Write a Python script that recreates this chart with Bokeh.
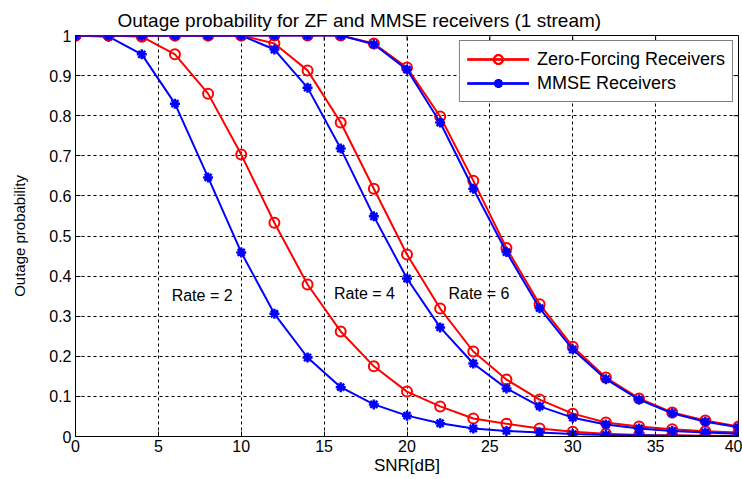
from bokeh.plotting import figure
from bokeh.models import Range1d, FixedTicker, Label
from bokeh.embed import file_html
from bokeh.resources import INLINE

snr = [0, 2, 4, 6, 8, 10, 12, 14, 16, 18, 20, 22, 24, 26, 28, 30, 32, 34, 36, 38, 40]

zf_rate2 = [1.0, 1.0, 0.997, 0.953, 0.855, 0.703, 0.533, 0.379, 0.262, 0.175, 0.112,
            0.075, 0.045, 0.032, 0.02, 0.012, 0.007, 0.004, 0.003, 0.002, 0.001]
mmse_rate2 = [1.0, 0.997, 0.953, 0.83, 0.646, 0.459, 0.306, 0.197, 0.123, 0.08, 0.052,
              0.033, 0.02, 0.014, 0.01, 0.006, 0.004, 0.003, 0.002, 0.001, 0.001]
zf_rate4 = [1.0, 1.0, 1.0, 1.0, 1.0, 1.0, 0.98, 0.913, 0.783, 0.618, 0.454,
            0.319, 0.212, 0.142, 0.092, 0.057, 0.035, 0.025, 0.018, 0.013, 0.01]
mmse_rate4 = [1.0, 1.0, 1.0, 1.0, 1.0, 1.0, 0.965, 0.87, 0.718, 0.549, 0.394,
              0.272, 0.182, 0.12, 0.075, 0.047, 0.03, 0.02, 0.014, 0.01, 0.007]
zf_rate6 = [1.0, 1.0, 1.0, 1.0, 1.0, 1.0, 1.0, 1.0, 1.0, 0.98, 0.92,
            0.798, 0.638, 0.47, 0.33, 0.224, 0.147, 0.095, 0.06, 0.04, 0.025]
mmse_rate6 = [1.0, 1.0, 1.0, 1.0, 1.0, 1.0, 1.0, 1.0, 1.0, 0.978, 0.915,
              0.783, 0.618, 0.46, 0.32, 0.217, 0.143, 0.092, 0.058, 0.037, 0.023]

x_ticks = [0, 5, 10, 15, 20, 25, 30, 35, 40]
y_ticks = [0, 0.1, 0.2, 0.3, 0.4, 0.5, 0.6, 0.7, 0.8, 0.9, 1.0]
y_tick_labels = ["0", "0.1", "0.2", "0.3", "0.4", "0.5", "0.6", "0.7", "0.8", "0.9", "1"]

rate_labels = ["Rate = 2", "Rate = 4", "Rate = 6"]
rate_label_x = [5.8, 15.6, 22.5]
rate_label_y = [0.352, 0.357, 0.357]

FONT = "Liberation Sans"
X0, X1, Y0, Y1 = 0, 40, 0, 1
FRAME_W, FRAME_H = 663, 401
TICK_PX = 5

p = figure(width=742, height=479, output_backend="svg", toolbar_location=None,
           x_range=Range1d(X0, X1), y_range=Range1d(Y0, Y1),
           min_border_left=75, min_border_right=4, min_border_top=35, min_border_bottom=43)

p.title.text = "Outage probability for ZF and MMSE receivers (1 stream)"
p.title.align = "left"
p.title.offset = 42
p.title.text_font = FONT
p.title.text_font_size = "19px"
p.title.text_font_style = "normal"
p.title.text_color = "#000000"

p.outline_line_color = "black"
p.outline_line_width = 1
p.background_fill_color = "white"

for ax in (p.xaxis[0], p.yaxis[0]):
    ax.major_tick_in = TICK_PX
    ax.major_tick_out = 0
    ax.minor_tick_line_color = None
    ax.axis_line_color = "black"
    ax.major_tick_line_color = "black"
    ax.major_label_text_font = FONT
    ax.major_label_text_font_size = "16px"
    ax.major_label_text_color = "black"
    ax.axis_label_text_font = FONT
    ax.axis_label_text_font_size = "15px"
    ax.axis_label_text_font_style = "normal"
    ax.axis_label_text_color = "black"

p.xaxis[0].ticker = FixedTicker(ticks=x_ticks)
p.yaxis[0].ticker = FixedTicker(ticks=y_ticks)
p.yaxis[0].major_label_overrides = {t: l for t, l in zip(y_ticks, y_tick_labels)}
p.xaxis[0].axis_label = "SNR[dB]"
p.yaxis[0].axis_label = "Outage probability"
p.xaxis[0].axis_label_text_font_size = "17px"
p.xaxis[0].major_label_standoff = 3
p.yaxis[0].major_label_standoff = 4
p.xaxis[0].axis_label_standoff = 1
p.yaxis[0].axis_label_standoff = 18

# inward tick marks on the top and right edges of the box
dx = TICK_PX * (X1 - X0) / FRAME_W
dy = TICK_PX * (Y1 - Y0) / FRAME_H
p.segment(x0=x_ticks, x1=x_ticks, y0=[Y1] * len(x_ticks), y1=[Y1 - dy] * len(x_ticks),
          line_color="black", line_width=1)
p.segment(x0=[X1] * len(y_ticks), x1=[X1 - dx] * len(y_ticks), y0=y_ticks, y1=y_ticks,
          line_color="black", line_width=1)

p.xgrid.ticker = FixedTicker(ticks=x_ticks)
p.ygrid.ticker = FixedTicker(ticks=y_ticks)
for g in (p.xgrid[0], p.ygrid[0]):
    g.grid_line_color = "black"
    g.grid_line_dash = "3 3"
    g.grid_line_width = 1
    g.grid_line_alpha = 1.0

ZF = "Zero-Forcing Receivers"
MM = "MMSE Receivers"
for zf, mm in ((zf_rate2, mmse_rate2), (zf_rate4, mmse_rate4), (zf_rate6, mmse_rate6)):
    p.line(snr, zf, line_color="red", line_width=2, legend_label=ZF)
    p.scatter(snr, zf, marker="circle", size=10, line_color="red", line_width=2,
              fill_color=None, legend_label=ZF)
    p.line(snr, mm, line_color="blue", line_width=2, legend_label=MM)
    p.scatter(snr, mm, marker="asterisk", size=10, line_color="blue", line_width=2.5,
              legend_label=MM)

for t, lx, ly in zip(rate_labels, rate_label_x, rate_label_y):
    p.add_layout(Label(x=lx, y=ly, text=t, text_font=FONT, text_font_size="16px",
                       text_color="black", text_baseline="middle", text_align="left"))

lg = p.legend[0]
lg.location = "top_right"
lg.margin = 5
lg.border_line_color = "black"
lg.border_line_width = 1
lg.background_fill_color = "white"
lg.background_fill_alpha = 1.0
lg.label_text_font = FONT
lg.label_text_font_size = "18px"
lg.label_text_color = "black"
lg.glyph_width = 62
lg.glyph_height = 22
lg.spacing = 2
lg.padding = 7
lg.label_standoff = 8

open("out.html", "w").write(file_html(p, INLINE))
